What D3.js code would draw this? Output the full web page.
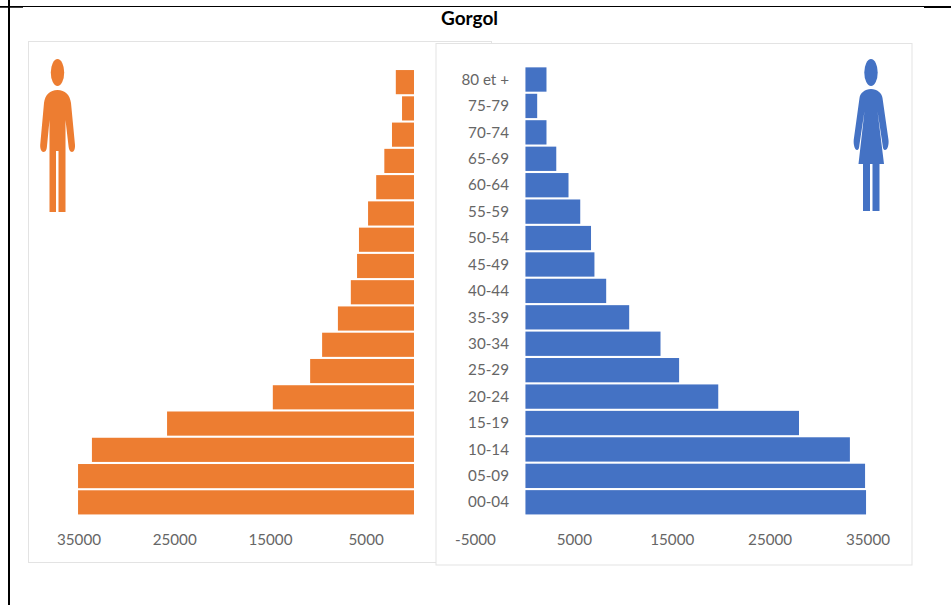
<!DOCTYPE html>
<html><head><meta charset="utf-8">
<script src="https://cdn.jsdelivr.net/npm/d3@7/dist/d3.min.js"></script>
<style>html,body{margin:0;padding:0;background:#fff}svg{display:block}text{font-family:Lato,"Open Sans",sans-serif}</style>
</head><body>
<svg id="c" width="951" height="605"></svg>
<script>
const ageGroups = ["80 et +","75-79","70-74","65-69","60-64","55-59","50-54","45-49","40-44","35-39","30-34","25-29","20-24","15-19","10-14","05-09","00-04"];
const hommes = [1900,1250,2300,3100,3950,4800,5750,5950,6600,7950,9600,10850,14750,25800,33650,35100,35100];
const femmes = [2150,1200,2150,3150,4400,5600,6700,7050,8250,10600,13800,15700,19700,27950,33150,34700,34800];
const leftTicks = [35000,25000,15000,5000];
const rightTicks = [-5000,5000,15000,25000,35000];
const title = "Gorgol";
const ORANGE="#ED7D31", BLUE="#4472C4", TXT="#666666", BORDER="#E3E3E3";

const svg=d3.select("#c");
// page rules
const rule=(x1,y1,x2,y2,w)=>svg.append("line").attr("x1",x1).attr("y1",y1).attr("x2",x2).attr("y2",y2).attr("stroke","#000").attr("stroke-width",w);
rule(0,6.5,951,6.5,1); rule(0,7,23,7,1.5); rule(924,7,951,7,2); rule(9,0,9,605,2);

// panels
svg.append("rect").attr("x",28.5).attr("y",41.5).attr("width",463).attr("height",521).attr("fill","#fff").attr("stroke",BORDER);
svg.append("rect").attr("x",436).attr("y",43.5).attr("width",476).attr("height",521.5).attr("fill","#fff").attr("stroke",BORDER);

// scales
const xL=d3.scaleLinear().domain([0,35000]).range([414,79]);
const xR=d3.scaleLinear().domain([-5000,35000]).range([476.5,868]);
const bandL=d3.scaleBand().domain(ageGroups).range([69,515.5]).paddingInner(0.08).paddingOuter(0.04);
const bandR=d3.scaleBand().domain(ageGroups).range([66.3,515.5]).paddingInner(0.08).paddingOuter(0.04);

svg.append("g").selectAll("rect").data(ageGroups).join("rect")
 .attr("x",(d,i)=>xL(hommes[i])).attr("width",(d,i)=>xL(0)-xL(hommes[i]))
 .attr("y",d=>bandL(d)).attr("height",bandL.bandwidth()).attr("fill",ORANGE);
svg.append("g").selectAll("rect").data(ageGroups).join("rect")
 .attr("x",xR(0)).attr("width",(d,i)=>xR(femmes[i])-xR(0))
 .attr("y",d=>bandR(d)).attr("height",bandR.bandwidth()).attr("fill",BLUE);

const fs=15.2;
// category labels
svg.append("g").selectAll("text").data(ageGroups).join("text")
 .attr("x",509).attr("y",d=>bandR(d)+bandR.bandwidth()/2+5.2).attr("text-anchor","end")
 .attr("font-size",fs).attr("fill",TXT).text(d=>d);
// tick labels
svg.append("g").selectAll("text").data(leftTicks).join("text")
 .attr("x",d=>xL(d)).attr("y",544.5).attr("text-anchor","middle").attr("font-size",fs).attr("fill",TXT).text(d=>d);
svg.append("g").selectAll("text").data(rightTicks).join("text")
 .attr("x",d=>xR(d)-(d<0?1:0)).attr("y",544.5).attr("text-anchor","middle").attr("font-size",fs).attr("fill",TXT).text(d=>d);
// title
svg.append("text").attr("x",469.5).attr("y",24.5).attr("text-anchor","middle").attr("font-size",19).attr("font-weight",700).attr("fill","#000").text(title);

// pictograms
const man=svg.append("g").attr("fill",ORANGE);
man.append("ellipse").attr("cx",57.5).attr("cy",72.5).attr("rx",6.7).attr("ry",13.5);
man.append("path").attr("d","M57.5 90C50 90 45 95 44 103L40.2 145C40 149 41.5 152 43.5 152C46 152 46.8 149 47 146L49.5 120L49.5 212L56 212L56 151L58.5 151L58.5 212L65.5 212L65.5 120L68.5 146C68.8 149 70 152 72 152C74 152 75.2 149 75 145L71 103C70 95 65 90 57.5 90Z");
const woman=svg.append("g").attr("fill",BLUE);
woman.append("ellipse").attr("cx",871).attr("cy",72.5).attr("rx",6.7).attr("ry",13.5);
woman.append("path").attr("d","M871 89C865 89 860 93 859.5 98L853.7 140C853.3 145 855 150 857 150C858.5 150 859.2 148 859.4 145L864.5 111L858.5 164L863 164L863 211L870 211L870 164L872.5 164L872.5 211L879.5 211L879.5 164L884 164L877.5 111L882.6 145C882.8 148 883.5 150 885 150C887.5 150 889 145 888.5 140L882.5 98C882 93 877 89 871 89Z");
</script>
</body></html>
